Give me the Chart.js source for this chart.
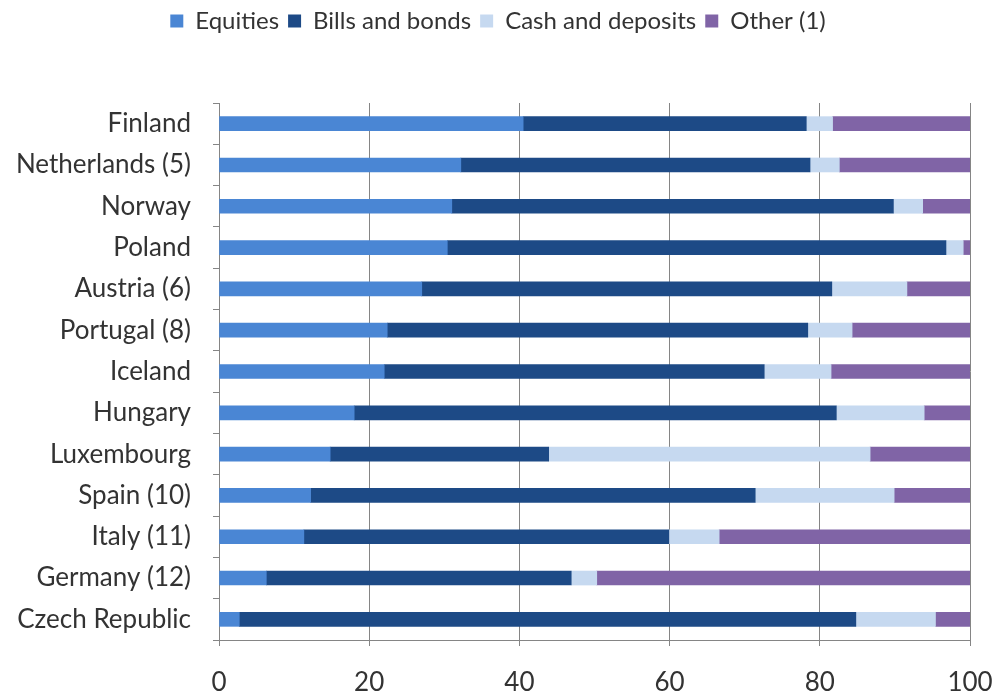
<!DOCTYPE html>
<html>
<head>
<meta charset="utf-8">
<script src="https://cdn.jsdelivr.net/npm/chart.js@4"></script>
<style>
  html, body { margin: 0; padding: 0; background: #fff; }
  #wrap { width: 996px; height: 692px; }
</style>
</head>
<body>
<div id="wrap"><canvas id="chart"></canvas></div>
<script>
const countries = [
  "Finland", "Netherlands (5)", "Norway", "Poland", "Austria (6)",
  "Portugal (8)", "Iceland", "Hungary", "Luxembourg", "Spain (10)",
  "Italy (11)", "Germany (12)", "Czech Republic"
];
const equities = [40.5, 32.2, 31.0, 30.4, 27.0, 22.4, 22.0, 18.0, 14.8, 12.2, 11.3, 6.3, 2.7];
const billsBonds = [37.7, 46.5, 58.8, 66.4, 54.6, 56.0, 50.6, 64.2, 29.1, 59.2, 48.6, 40.6, 82.1];
const cashDeposits = [3.5, 3.9, 3.9, 2.3, 10.0, 5.9, 8.9, 11.7, 42.8, 18.5, 6.7, 3.4, 10.6];
const other = [18.3, 17.4, 6.3, 0.9, 8.4, 15.7, 18.5, 6.1, 13.3, 10.1, 33.4, 49.7, 4.6];
const xTicks = [0, 20, 40, 60, 80, 100];

const font = "Lato, 'Open Sans', sans-serif";
const axisGray = "#858585";
const textColor = "#333";

function series(label, data, color) {
  return { label, data, backgroundColor: color, borderWidth: 0, barThickness: 14 };
}

// keep a fixed gap between the legend row and the plot
const legendGap = {
  id: "legendGap",
  beforeInit(chart) {
    const fit = chart.legend.fit;
    chart.legend.fit = function () {
      fit.call(this);
      this.height = 103;
    };
  },
};

const config = {
  type: "bar",
  data: {
    labels: countries,
    datasets: [
      series("Equities", equities, "#4a86d4"),
      series("Bills and bonds", billsBonds, "#1d4a86"),
      series("Cash and deposits", cashDeposits, "#c6d9f0"),
      series("Other (1)", other, "#8064a6"),
    ],
  },
  options: {
    indexAxis: "y",
    responsive: false,
    animation: false,
    layout: { padding: 0 },
    plugins: {
      legend: {
        position: "top",
        labels: {
          boxWidth: 13,
          boxHeight: 13,
          padding: 9,
          color: textColor,
          font: { family: font, size: 24 },
        },
      },
      tooltip: { enabled: false },
    },
    scales: {
      x: {
        stacked: true,
        min: 0,
        max: 100,
        afterBuildTicks: (axis) => { axis.ticks = xTicks.map(v => ({ value: v })); },
        grid: { color: axisGray, lineWidth: 1, tickLength: 6 },
        border: { color: axisGray },
        ticks: { color: textColor, padding: 21, font: { family: font, size: 26 } },
        afterFit: (axis) => {
          axis.height = 52;
          axis.paddingLeft = 0;
          axis.paddingRight = 26;
        },
      },
      y: {
        stacked: true,
        grid: { offset: true, drawOnChartArea: false, color: axisGray, tickLength: 6 },
        border: { color: axisGray },
        ticks: { color: textColor, padding: 22, font: { family: font, size: 26 } },
        afterFit: (axis) => { axis.width = 219; },
      },
    },
  },
  plugins: [legendGap],
};

const canvas = document.getElementById("chart");
canvas.width = 996;
canvas.height = 692;
new Chart(canvas, config);
</script>
</body>
</html>
